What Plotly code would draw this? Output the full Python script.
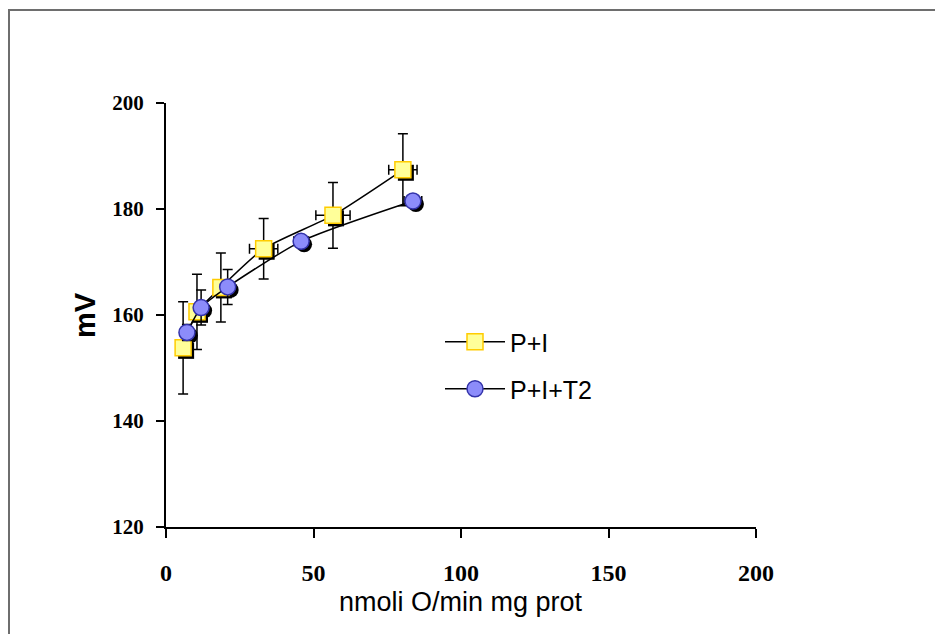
import plotly.graph_objects as go

# ---- data ----
pi_x = [5.8, 10.5, 18.6, 33.1, 56.6, 80.3]
pi_y = [153.8, 160.6, 165.2, 172.5, 178.8, 187.4]
pi_xerr = [0.6, 1.0, 1.5, 4.8, 5.8, 4.8]
pi_yerr = [8.7, 7.1, 6.5, 5.7, 6.2, 6.8]

t2_x = [7.1, 11.9, 20.9, 45.8, 83.7]
t2_y = [156.7, 161.4, 165.3, 173.9, 181.5]
t2_xerr = [0.8, 1.0, 1.5, 2.5, 3.0]
t2_yerr = [1.5, 3.3, 3.3, 0.8, 0.8]

x_ticks = [0, 50, 100, 150, 200]
y_ticks = [120, 140, 160, 180, 200]

names = ["P+I", "P+I+T2"]

# ---- layout geometry (page px; the page body adds an 8px offset) ----
OFF = 8
W, H = 943 - OFF, 634 - OFF
PL, PT = 166, 103          # plot-area left/top in page px
PW, PH = 590, 424
ML, MT = PL - OFF, PT - OFF
MR, MB = W - ML - PW, H - MT - PH
XR = [0, 200]
YR = [120, 200]


def px_x(p):
    return (p - PL) / PW


def px_y(p):
    return (PT + PH - p) / PH


# shadow offset (px -> data units)
sdx = 3 * (XR[1] - XR[0]) / PW
sdy = 3 * (YR[1] - YR[0]) / PH

fig = go.Figure()

for xs, ys, sym in [(pi_x, pi_y, "square"), (t2_x, t2_y, "circle")]:
    fig.add_trace(go.Scatter(
        x=[v + sdx for v in xs], y=[v - sdy for v in ys], mode="markers",
        marker=dict(symbol=sym, size=16, color="black", line=dict(width=0)),
        showlegend=False, hoverinfo="skip"))

err_style = dict(color="black", thickness=1.5, width=5)

fig.add_trace(go.Scatter(
    x=pi_x, y=pi_y, name=names[0], mode="lines+markers",
    line=dict(color="black", width=1.5, shape="spline", smoothing=0.6),
    marker=dict(symbol="square", size=16, color="#FFFF99",
                line=dict(color="#FFCC00", width=1.5)),
    error_y=dict(type="data", array=pi_yerr, visible=True, **err_style),
    error_x=dict(type="data", array=pi_xerr, visible=True, **err_style),
    legend="legend"))

fig.add_trace(go.Scatter(
    x=t2_x, y=t2_y, name=names[1], mode="lines+markers",
    line=dict(color="black", width=1.5, shape="spline", smoothing=0.6),
    marker=dict(symbol="circle", size=16, color="#8C8CFA",
                line=dict(color="#3333AA", width=1.5)),
    error_y=dict(type="data", array=t2_yerr, visible=True, **err_style),
    error_x=dict(type="data", array=t2_xerr, visible=True, **err_style),
    legend="legend2"))

serif = "Liberation Serif, Times New Roman, serif"
sans = "Liberation Sans, Arial, sans-serif"

axis_common = dict(showgrid=False, zeroline=False, showline=True,
                   linecolor="black", linewidth=2, ticks="outside",
                   tickwidth=1.5, tickcolor="black")

legend_common = dict(xanchor="left", yanchor="middle", bgcolor="rgba(0,0,0,0)",
                     itemwidth=60,
                     font=dict(family=sans, size=25, color="black"))

fig.update_layout(
    width=W, height=H,
    margin=dict(l=ML, r=MR, t=MT, b=MB, pad=0),
    paper_bgcolor="white", plot_bgcolor="white",
    xaxis=dict(range=XR, tickvals=x_ticks, ticktext=[str(v) for v in x_ticks],
               ticklen=9, tickfont=dict(size=24, family=serif, color="black", weight="bold"),
               ticklabelstandoff=14, **axis_common),
    yaxis=dict(range=YR, tickvals=y_ticks, ticktext=[str(v) for v in y_ticks],
               ticklen=8, tickfont=dict(size=21, family=serif, color="black", weight="bold"),
               ticklabelstandoff=8, **axis_common),
    legend=dict(x=px_x(440), y=px_y(342), **legend_common),
    legend2=dict(x=px_x(440), y=px_y(389), **legend_common),
    shapes=[dict(type="path", xref="paper", yref="paper",
                 path="M %f %f L %f %f L %f %f" % (
                     px_x(9), -0.4, px_x(9), px_y(10), 1.5, px_y(10)),
                 line=dict(color="#6E6E6E", width=2))],
    annotations=[
        dict(text="nmoli O/min mg prot", xref="paper", yref="paper",
             x=px_x(461), y=px_y(602), xanchor="center", yanchor="middle",
             showarrow=False, font=dict(family=sans, size=27, color="black")),
        dict(text="<b>mV</b>", xref="paper", yref="paper",
             x=px_x(85), y=px_y(315), xanchor="center", yanchor="middle",
             textangle=-90, showarrow=False,
             font=dict(family=sans, size=29, color="black")),
    ],
)

fig.write_html("out.html")
